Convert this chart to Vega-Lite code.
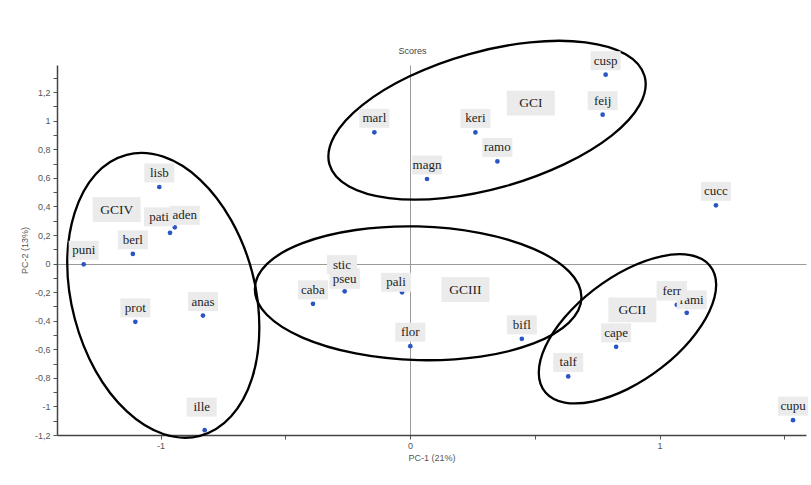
{
  "$schema": "https://vega.github.io/schema/vega-lite/v6.json",
  "width": 749,
  "height": 370,
  "autosize": {"type": "none"},
  "padding": {"left": 57, "top": 65, "right": 5, "bottom": 50},
  "background": "white",
  "title": {
    "text": "Scores",
    "font": "Liberation Sans",
    "fontSize": 9,
    "fontWeight": "normal",
    "color": "#444444",
    "anchor": "middle",
    "frame": "group",
    "dx": -19,
    "dy": 31,
    "offset": 11
  },
  "config": {
    "view": {"stroke": null},
    "axis": {
      "domainColor": "#444444",
      "domainWidth": 1.5,
      "tickColor": "#555555",
      "tickSize": 4,
      "tickWidth": 1,
      "labelFont": "Liberation Sans",
      "labelFontSize": 9,
      "labelColor": "#555555",
      "titleFont": "Liberation Sans",
      "titleFontSize": 9,
      "titleFontWeight": "normal",
      "titleColor": "#555555",
      "labelOverlap": false,
      "labelFlush": false
    }
  },
  "datasets": {
    "scores": [
      {"name": "marl", "x": -0.143, "y": 0.919},
      {"name": "keri", "x": 0.262, "y": 0.918},
      {"name": "ramo", "x": 0.350, "y": 0.715},
      {"name": "magn", "x": 0.068, "y": 0.592},
      {"name": "feij", "x": 0.772, "y": 1.042},
      {"name": "cusp", "x": 0.784, "y": 1.322},
      {"name": "cucc", "x": 1.226, "y": 0.408},
      {"name": "lisb", "x": -1.005, "y": 0.536},
      {"name": "pati", "x": -0.962, "y": 0.215},
      {"name": "aden", "x": -0.943, "y": 0.254},
      {"name": "berl", "x": -1.111, "y": 0.068},
      {"name": "puni", "x": -1.308, "y": -0.005},
      {"name": "prot", "x": -1.101, "y": -0.408},
      {"name": "anas", "x": -0.830, "y": -0.364},
      {"name": "ille", "x": -0.823, "y": -1.166},
      {"name": "caba", "x": -0.389, "y": -0.282},
      {"name": "stic", "x": -0.273, "y": -0.126},
      {"name": "pseu", "x": -0.262, "y": -0.194},
      {"name": "pali", "x": -0.032, "y": -0.201},
      {"name": "flor", "x": 0.001, "y": -0.578},
      {"name": "bifl", "x": 0.448, "y": -0.527},
      {"name": "talf", "x": 0.634, "y": -0.790},
      {"name": "cape", "x": 0.826, "y": -0.583},
      {"name": "rami", "x": 1.109, "y": -0.345},
      {"name": "ferr", "x": 1.069, "y": -0.289},
      {"name": "cupu", "x": 1.535, "y": -1.096}
    ],
    "groups": [
      {"name": "GCI", "x": 0.484, "y": 1.123},
      {"name": "GCII", "x": 0.891, "y": -0.324},
      {"name": "GCIII", "x": 0.222, "y": -0.182},
      {"name": "GCIV", "x": -1.176, "y": 0.378}
    ],
    "hulls": [
      {"g": "GCI", "i": 0, "x": 0.940, "y": 1.313},
      {"g": "GCI", "i": 1, "x": 0.921, "y": 1.113},
      {"g": "GCI", "i": 2, "x": 0.808, "y": 0.896},
      {"g": "GCI", "i": 3, "x": 0.619, "y": 0.696},
      {"g": "GCI", "i": 4, "x": 0.383, "y": 0.542},
      {"g": "GCI", "i": 5, "x": 0.135, "y": 0.458},
      {"g": "GCI", "i": 6, "x": -0.085, "y": 0.458},
      {"g": "GCI", "i": 7, "x": -0.246, "y": 0.541},
      {"g": "GCI", "i": 8, "x": -0.323, "y": 0.694},
      {"g": "GCI", "i": 9, "x": -0.303, "y": 0.894},
      {"g": "GCI", "i": 10, "x": -0.190, "y": 1.111},
      {"g": "GCI", "i": 11, "x": -0.002, "y": 1.311},
      {"g": "GCI", "i": 12, "x": 0.234, "y": 1.465},
      {"g": "GCI", "i": 13, "x": 0.482, "y": 1.549},
      {"g": "GCI", "i": 14, "x": 0.703, "y": 1.549},
      {"g": "GCI", "i": 15, "x": 0.864, "y": 1.466},

      {"g": "GCII", "i": 0, "x": 1.227, "y": -0.149},
      {"g": "GCII", "i": 1, "x": 1.200, "y": -0.334},
      {"g": "GCII", "i": 2, "x": 1.123, "y": -0.538},
      {"g": "GCII", "i": 3, "x": 1.008, "y": -0.729},
      {"g": "GCII", "i": 4, "x": 0.872, "y": -0.879},
      {"g": "GCII", "i": 5, "x": 0.736, "y": -0.964},
      {"g": "GCII", "i": 6, "x": 0.620, "y": -0.973},
      {"g": "GCII", "i": 7, "x": 0.543, "y": -0.902},
      {"g": "GCII", "i": 8, "x": 0.516, "y": -0.764},
      {"g": "GCII", "i": 9, "x": 0.543, "y": -0.579},
      {"g": "GCII", "i": 10, "x": 0.620, "y": -0.376},
      {"g": "GCII", "i": 11, "x": 0.736, "y": -0.184},
      {"g": "GCII", "i": 12, "x": 0.872, "y": -0.034},
      {"g": "GCII", "i": 13, "x": 1.008, "y": 0.051},
      {"g": "GCII", "i": 14, "x": 1.123, "y": 0.059},
      {"g": "GCII", "i": 15, "x": 1.200, "y": -0.011},

      {"g": "GCIII", "i": 0, "x": 0.687, "y": -0.236},
      {"g": "GCIII", "i": 1, "x": 0.637, "y": -0.413},
      {"g": "GCIII", "i": 2, "x": 0.495, "y": -0.559},
      {"g": "GCIII", "i": 3, "x": 0.283, "y": -0.651},
      {"g": "GCIII", "i": 4, "x": 0.032, "y": -0.676},
      {"g": "GCIII", "i": 5, "x": -0.218, "y": -0.629},
      {"g": "GCIII", "i": 6, "x": -0.431, "y": -0.518},
      {"g": "GCIII", "i": 7, "x": -0.573, "y": -0.360},
      {"g": "GCIII", "i": 8, "x": -0.622, "y": -0.179},
      {"g": "GCIII", "i": 9, "x": -0.573, "y": -0.002},
      {"g": "GCIII", "i": 10, "x": -0.431, "y": 0.143},
      {"g": "GCIII", "i": 11, "x": -0.218, "y": 0.235},
      {"g": "GCIII", "i": 12, "x": 0.032, "y": 0.260},
      {"g": "GCIII", "i": 13, "x": 0.283, "y": 0.213},
      {"g": "GCIII", "i": 14, "x": 0.495, "y": 0.103},
      {"g": "GCIII", "i": 15, "x": 0.637, "y": -0.055},

      {"g": "GCIV", "i": 0, "x": -0.604, "y": -0.448},
      {"g": "GCIV", "i": 1, "x": -0.633, "y": -0.802},
      {"g": "GCIV", "i": 2, "x": -0.717, "y": -1.069},
      {"g": "GCIV", "i": 3, "x": -0.842, "y": -1.206},
      {"g": "GCIV", "i": 4, "x": -0.989, "y": -1.193},
      {"g": "GCIV", "i": 5, "x": -1.136, "y": -1.033},
      {"g": "GCIV", "i": 6, "x": -1.261, "y": -0.749},
      {"g": "GCIV", "i": 7, "x": -1.344, "y": -0.385},
      {"g": "GCIV", "i": 8, "x": -1.374, "y": 0.003},
      {"g": "GCIV", "i": 9, "x": -1.344, "y": 0.357},
      {"g": "GCIV", "i": 10, "x": -1.261, "y": 0.624},
      {"g": "GCIV", "i": 11, "x": -1.136, "y": 0.761},
      {"g": "GCIV", "i": 12, "x": -0.989, "y": 0.748},
      {"g": "GCIV", "i": 13, "x": -0.842, "y": 0.588},
      {"g": "GCIV", "i": 14, "x": -0.717, "y": 0.304},
      {"g": "GCIV", "i": 15, "x": -0.633, "y": -0.059}
    ]
  },
  "encoding": {
    "x": {
      "field": "x",
      "type": "quantitative",
      "title": "PC-1 (21%)",
      "scale": {"domain": [-1.415, 1.587], "nice": false, "zero": false},
      "axis": {
        "values": [-1, -0.5, 0, 0.5, 1, 1.5],
        "labelExpr": "datum.value % 1 === 0 ? toString(datum.value) : ''",
        "labelPadding": 2,
        "titlePadding": 3,
        "grid": true,
        "gridColor": "#9a9a9a",
        "gridWidth": 1,
        "gridOpacity": {"condition": {"test": "datum.value === 0", "value": 1}, "value": 0}
      }
    },
    "y": {
      "field": "y",
      "type": "quantitative",
      "title": "PC-2 (13%)",
      "scale": {"domain": [-1.2, 1.39], "nice": false, "zero": false},
      "axis": {
        "values": [-1.2, -1.1, -1, -0.9, -0.8, -0.7, -0.6, -0.5, -0.4, -0.3, -0.2, -0.1, 0, 0.1, 0.2, 0.3, 0.4, 0.5, 0.6, 0.7, 0.8, 0.9, 1, 1.1, 1.2, 1.3],
        "labelExpr": "abs(round(datum.value * 10)) % 2 === 0 ? replace(toString(datum.value), '.', ',') : ''",
        "labelPadding": 3,
        "titlePadding": 5,
        "grid": true,
        "gridColor": "#9a9a9a",
        "gridWidth": 1,
        "gridOpacity": {"condition": {"test": "datum.value === 0", "value": 1}, "value": 0}
      }
    }
  },
  "layer": [
    {
      "data": {"name": "hulls"},
      "mark": {"type": "line", "interpolate": "cardinal-closed", "stroke": "#000000", "strokeWidth": 2.3, "clip": false},
      "encoding": {
        "detail": {"field": "g"},
        "order": {"field": "i", "type": "quantitative"}
      }
    },
    {
      "data": {"name": "scores"},
      "mark": {"type": "circle", "size": 22, "color": "#2a55c4", "opacity": 1}
    },
    {
      "data": {"name": "scores"},
      "mark": {
        "type": "point",
        "shape": "M-1,-0.633L1,-0.633L1,0.633L-1,0.633Z",
        "size": 900,
        "filled": true,
        "color": "#ebebeb",
        "opacity": 1,
        "strokeWidth": 0,
        "xOffset": {"expr": "datum.name === 'pati' ? -11 : datum.name === 'aden' ? 10 : datum.name === 'rami' ? 5 : datum.name === 'ferr' ? -5 : datum.name === 'pali' ? -6 : datum.name === 'ille' ? -3 : 0"},
        "yOffset": {"expr": "datum.name === 'ille' ? -23 : datum.name === 'pali' ? -10 : datum.name === 'aden' ? -12 : datum.name === 'pati' ? -16 : datum.name === 'rami' ? -13 : datum.name === 'stic' ? -17 : -14"}
      }
    },
    {
      "data": {"name": "scores"},
      "mark": {
        "type": "text",
        "font": "Liberation Serif",
        "fontSize": 13,
        "color": "#1e1e1e",
        "align": "center",
        "baseline": "middle",
        "xOffset": {"expr": "datum.name === 'pati' ? -11 : datum.name === 'aden' ? 10 : datum.name === 'rami' ? 5 : datum.name === 'ferr' ? -5 : datum.name === 'pali' ? -6 : datum.name === 'ille' ? -3 : 0"},
        "yOffset": {"expr": "datum.name === 'ille' ? -23 : datum.name === 'pali' ? -10 : datum.name === 'aden' ? -12 : datum.name === 'pati' ? -16 : datum.name === 'rami' ? -13 : datum.name === 'stic' ? -17 : -14"}
      },
      "encoding": {"text": {"field": "name"}}
    },
    {
      "data": {"name": "scores"},
      "transform": [{"filter": {"field": "name", "oneOf": ["pseu", "ferr"]}}],
      "mark": {
        "type": "point",
        "shape": "M-1,-0.633L1,-0.633L1,0.633L-1,0.633Z",
        "size": 900,
        "filled": true,
        "color": "#ebebeb",
        "opacity": 1,
        "strokeWidth": 0,
        "xOffset": {"expr": "datum.name === 'ferr' ? -5 : 0"},
        "yOffset": {"expr": "datum.name === 'pseu' ? -12 : -14"}
      }
    },
    {
      "data": {"name": "scores"},
      "transform": [{"filter": {"field": "name", "oneOf": ["pseu", "ferr"]}}],
      "mark": {
        "type": "text",
        "font": "Liberation Serif",
        "fontSize": 13,
        "color": "#1e1e1e",
        "align": "center",
        "baseline": "middle",
        "xOffset": {"expr": "datum.name === 'ferr' ? -5 : 0"},
        "yOffset": {"expr": "datum.name === 'pseu' ? -12 : -14"}
      },
      "encoding": {"text": {"field": "name"}}
    },
    {
      "data": {"name": "groups"},
      "mark": {
        "type": "point",
        "shape": "M-1,-0.52L1,-0.52L1,0.52L-1,0.52Z",
        "size": 2304,
        "filled": true,
        "color": "#ebebeb",
        "opacity": 1,
        "strokeWidth": 0
      }
    },
    {
      "data": {"name": "groups"},
      "mark": {
        "type": "text",
        "font": "Liberation Serif",
        "fontSize": 13.5,
        "color": "#1e1e1e",
        "align": "center",
        "baseline": "middle"
      },
      "encoding": {"text": {"field": "name"}}
    }
  ]
}
